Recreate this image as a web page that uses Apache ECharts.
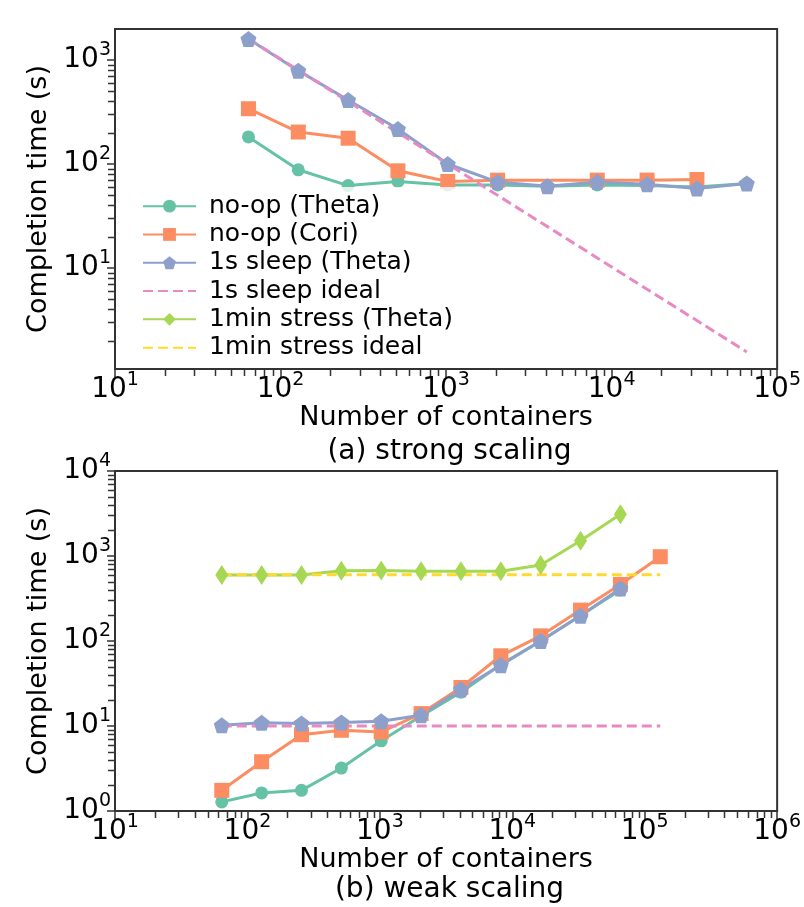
<!DOCTYPE html>
<html><head><meta charset="utf-8">
<script src="https://cdn.jsdelivr.net/npm/echarts@6/dist/echarts.min.js"></script>
<style>html,body{margin:0;padding:0;background:#fff}#c{width:804px;height:907px}</style>
</head><body><div id="c"></div>
<script>
// ---------- data ----------
const containers = [64, 128, 256, 512, 1024, 2048, 4096, 8192, 16384, 32768, 65536];
const containersCoriStrong = [64, 128, 256, 512, 1024, 2048, 8192, 16384, 32768];
const containersWide = [64, 128, 256, 512, 1024, 2048, 4096, 8192, 16384, 32768, 65536, 131072];

// (a) strong scaling
const strongNoopTheta = [182, 88, 62, 68, 63, 63, 61, 63, 62, 60, 65];
const strongNoopCori = [340, 203, 177, 86, 68, 70, 70, 70, 71];
const strongSleepTheta = [1590, 790, 412, 217, 100, 67, 61, 67, 64, 58, 65];
const strongSleepIdeal = [1600, 800, 400, 200, 100, 50, 25, 12.5, 6.25, 3.125, 1.5625];

// (b) weak scaling
const weakNoopTheta = [1.28, 1.63, 1.75, 3.2, 6.7, 13.1, 25, 53, 100, 200, 398];
const weakNoopCori = [1.75, 3.8, 7.9, 8.9, 8.5, 14, 28.4, 67, 115, 231, 463, 981];
const weakSleepTheta = [10.2, 10.9, 10.7, 11.0, 11.4, 13.4, 26.9, 52, 100, 198, 416];
const weakSleepIdeal = [10, 10, 10, 10, 10, 10, 10, 10, 10, 10, 10, 10];
const weakStressTheta = [597, 597, 597, 670, 675, 660, 660, 660, 783, 1513, 3095];
const weakStressIdeal = [600, 600, 600, 600, 600, 600, 600, 600, 600, 600, 600, 600];

const seriesNames = ['no-op (Theta)', 'no-op (Cori)', '1s sleep (Theta)', '1s sleep ideal', '1min stress (Theta)', '1min stress ideal'];
const subtitles = ['(a) strong scaling', '(b) weak scaling'];
const xName = 'Number of containers';
const yName = 'Completion time (s)';

// ---------- helpers ----------
const FONT = "'DejaVu Sans', sans-serif";
const COL = { green: '#66c2a5', orange: '#fc8d62', blue: '#8da0cb', pink: '#e78ac3', lime: '#a6d854', yellow: '#ffd92f' };
const PENTAGON = 'path://M50,0 L97.55,34.55 L79.39,90.45 L20.61,90.45 L2.45,34.55 Z';
const AX = '#333';

function zip(xs, ys) { return ys.map((y, i) => [xs[i], y]); }
function majors(min, max) { const r = []; for (let e = -2; e <= 8; e++) { const v = Math.pow(10, e); if (v >= min * 0.9999 && v <= max * 1.0001) r.push(v); } return r; }
function minors(min, max) { const r = []; for (let e = -2; e <= 8; e++) for (let m = 2; m <= 9; m++) { const v = m * Math.pow(10, e); if (v > min && v < max) r.push(v); } return r; }
const labelRich = {
  b: { fontSize: 28, fontFamily: FONT, color: '#000', lineHeight: 38 },
  s: { fontSize: 19, fontFamily: FONT, color: '#000', verticalAlign: 'top', lineHeight: 21 }
};
function fmt(v) { return '{b|10}{s|' + Math.round(Math.log10(v)) + '}'; }

function mainAxis(dim, grid, min, max, extra) {
  return Object.assign({
    type: 'log', logBase: 10, gridIndex: grid, min: min, max: max,
    position: dim === 'x' ? 'bottom' : 'left',
    axisLine: { show: true, onZero: false, lineStyle: { color: AX, width: 2 } },
    axisTick: { show: true, customValues: majors(min, max), length: 8, lineStyle: { color: AX, width: 1.5 } },
    axisLabel: { customValues: majors(min, max), formatter: fmt, rich: labelRich, margin: dim === 'x' ? 2 : 4 },
    splitLine: { show: false }, minorTick: { show: false }
  }, extra || {});
}

const nameStyle = { fontSize: 27, fontFamily: FONT, color: '#000' };
const xNameOpts = { name: xName, nameLocation: 'middle', nameGap: 30, nameTextStyle: nameStyle };
const yNameOpts = { name: yName, nameLocation: 'middle', nameGap: 60, nameTextStyle: nameStyle };

const topY = [1.07, 1986];
const topX = [10, 100000];
const botY = [1, 10000];
const botX = [10, 1000000];

function lineSeries(name, data, color, symbol, size, xi, yi, dashed) {
  return {
    type: 'line', name: name, data: data, xAxisIndex: xi, yAxisIndex: yi,
    symbol: dashed ? 'none' : symbol, symbolSize: size, showSymbol: !dashed,
    lineStyle: { color: color, width: 3, type: dashed ? [10, 5] : 'solid' },
    itemStyle: { color: color }, emphasis: { disabled: true }, z: 3
  };
}

// minor ticks (2..9 x 10^k), placed through the axes' own log scales
function minorTickSeries(idx, xr, yr) {
  const data = minors(xr[0], xr[1]).map(v => [v, yr[0], 0])
    .concat(minors(yr[0], yr[1]).map(v => [xr[0], v, 1]));
  return {
    type: 'custom', name: 'minor-ticks-' + idx, xAxisIndex: idx, yAxisIndex: idx, data: data,
    silent: true, clip: false, z: 10,
    renderItem: function (params, api) {
      const p = api.coord([api.value(0), api.value(1)]);
      const isY = api.value(2) === 1;
      const x = Math.round(p[0]) + 0.5, y = Math.round(p[1]) + 0.5;
      return {
        type: 'line',
        shape: isY ? { x1: p[0] - 1, y1: y, x2: p[0] - 7, y2: y } : { x1: x, y1: p[1] + 1, x2: x, y2: p[1] + 7 },
        style: { stroke: AX, lineWidth: 1.5 }
      };
    }
  };
}

const option = {
  animation: false,
  backgroundColor: '#fff',
  grid: [
    { left: 115, right: 20, top: 29, height: 340, show: true, borderColor: AX, borderWidth: 2 },
    { left: 115, right: 20, top: 471, height: 340, show: true, borderColor: AX, borderWidth: 2 }
  ],
  xAxis: [
    mainAxis('x', 0, topX[0], topX[1], xNameOpts),
    mainAxis('x', 1, botX[0], botX[1], xNameOpts)
  ],
  yAxis: [
    mainAxis('y', 0, topY[0], topY[1], yNameOpts),
    mainAxis('y', 1, botY[0], botY[1], yNameOpts)
  ],
  legend: {
    data: seriesNames.map(n => n.indexOf('ideal') >= 0 ? { name: n, itemStyle: { opacity: 0 } } : { name: n }),
    orient: 'vertical', left: 137, top: 187,
    itemWidth: 53, itemHeight: 16, itemGap: 0,
    textStyle: { fontSize: 25, fontFamily: FONT, color: '#000', lineHeight: 28.3, padding: [0, 0, 0, 8] },
    backgroundColor: 'rgba(255,255,255,0.8)'
  },
  graphic: [
    { type: 'text', x: 449.5, y: 452, style: { text: subtitles[0], font: '28px ' + FONT, fill: '#000', align: 'center', verticalAlign: 'middle' } },
    { type: 'text', x: 449.5, y: 890, style: { text: subtitles[1], font: '28px ' + FONT, fill: '#000', align: 'center', verticalAlign: 'middle' } }
  ],
  series: [
    minorTickSeries(0, topX, topY),
    minorTickSeries(1, botX, botY),

    lineSeries(seriesNames[0], zip(containers, strongNoopTheta), COL.green, 'circle', 13, 0, 0),
    lineSeries(seriesNames[1], zip(containersCoriStrong, strongNoopCori), COL.orange, 'rect', 15, 0, 0),
    lineSeries(seriesNames[2], zip(containers, strongSleepTheta), COL.blue, PENTAGON, 16, 0, 0),
    lineSeries(seriesNames[3], zip(containers, strongSleepIdeal), COL.pink, 'none', 0, 0, 0, true),

    lineSeries(seriesNames[0], zip(containers, weakNoopTheta), COL.green, 'circle', 13, 1, 1),
    lineSeries(seriesNames[1], zip(containersWide, weakNoopCori), COL.orange, 'rect', 15, 1, 1),
    lineSeries(seriesNames[2], zip(containers, weakSleepTheta), COL.blue, PENTAGON, 16, 1, 1),
    lineSeries(seriesNames[3], zip(containersWide, weakSleepIdeal), COL.pink, 'none', 0, 1, 1, true),
    lineSeries(seriesNames[4], zip(containers, weakStressTheta), COL.lime, 'diamond', [13, 20], 1, 1),
    lineSeries(seriesNames[5], zip(containersWide, weakStressIdeal), COL.yellow, 'none', 0, 1, 1, true)
  ]
};
const chart = echarts.init(document.getElementById('c'), null, { renderer: 'canvas' });
chart.setOption(option);
</script>
</body></html>
